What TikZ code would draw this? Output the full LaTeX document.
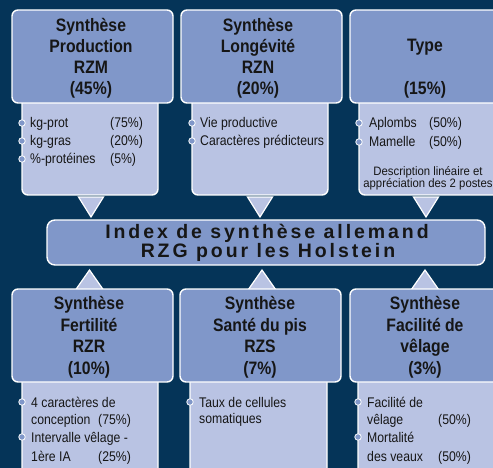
\documentclass[tikz,border=0pt]{standalone}
\usepackage{fontspec}
\setmainfont{Liberation Sans}[FakeStretch=0.875]
\newfontfamily\spacedfont{Liberation Sans}[LetterSpace=15]
\newfontfamily\descfont{Liberation Sans}[FakeStretch=0.93]
\definecolor{navy}{HTML}{053458}
\definecolor{headblue}{HTML}{8097C9}
\definecolor{lightblue}{HTML}{B9C3E3}
\definecolor{txt}{HTML}{161616}
\begin{document}
\begin{tikzpicture}[x=1pt,y=-1pt,
  box/.style={draw=white, line width=1.4pt, rounded corners=6pt},
  headbox/.style={box, fill=headblue},
  lightbox/.style={box, fill=lightblue},
  tri/.style={draw=white, line width=1.2pt, fill=lightblue},
  dot/.style={circle, draw=white, line width=0.8pt, fill=headblue, inner sep=0pt, minimum size=6.5pt},
  hd/.style={anchor=base, inner sep=0pt, font=\fontsize{18}{21}\selectfont\bfseries, text=txt},
  bt/.style={anchor=base west, inner sep=0pt, font=\fontsize{14}{18}\selectfont, text=txt},
  st/.style={anchor=base, inner sep=0pt, font=\descfont\fontsize{12.2}{11}\selectfont, text=txt},
  mid/.style={anchor=base, inner sep=0pt, font=\spacedfont\bfseries\fontsize{19.5}{19}\selectfont, text=txt},
]
\fill[navy] (0,0) rectangle (493,468);
\useasboundingbox (0,0) rectangle (493,468);
\clip (0,0) rectangle (493,468);

% ---------- top row ----------
\draw[tri] (78.5,197) -- (91,217) -- (103.5,197) -- cycle;
\draw[tri] (247.5,197) -- (260,217) -- (272.5,197) -- cycle;
\draw[tri] (413.5,197) -- (426,217) -- (438.5,197) -- cycle;

\draw[lightbox] (22,96) rectangle (158,195);
\draw[lightbox] (192,96) rectangle (328,195);
\draw[lightbox] (359,96) rectangle (510,195);

\draw[headbox] (12,10) rectangle (173,103);
\draw[headbox] (181,10) rectangle (342,103);
\draw[headbox] (350,10) rectangle (515,103);

\node[hd] (h1a) at (91,31.5) {Synthèse};
\node[hd] (h1b) at (91,52.5) {Production};
\node[hd] (h1c) at (91,73.5) {RZM};
\node[hd] (h1d) at (91,94.5) {(45\%)};

\node[hd] (h2a) at (258,31.5) {Synthèse};
\node[hd] (h2b) at (258,52.5) {Longévité};
\node[hd] (h2c) at (258,73.5) {RZN};
\node[hd] (h2d) at (258,94.5) {(20\%)};

\node[hd] (h3a) at (425,51.5) {Type};
\node[hd] (h3b) at (425,94.5) {(15\%)};

\node[dot] (d1) at (22,123) {};
\node[dot] (d2) at (22,141) {};
\node[dot] (d3) at (22,159) {};
\node[bt] (t1a) at (30,128) {kg-prot};
\node[bt] (t1b) at (30,146) {kg-gras};
\node[bt] (t1c) at (30,164) {\%-protéines};
\node[bt] (p1a) at (110,128) {(75\%)};
\node[bt] (p1b) at (110,146) {(20\%)};
\node[bt] (p1c) at (110,164) {(5\%)};

\node[dot] (d4) at (192,123) {};
\node[dot] (d5) at (192,141) {};
\node[bt] (t2a) at (200,128) {Vie productive};
\node[bt] (t2b) at (200,146) {Caractères prédicteurs};

\node[dot] (d6) at (359,123) {};
\node[dot] (d7) at (359,142) {};
\node[bt] (t3a) at (369,128) {Aplombs};
\node[bt] (t3b) at (369,147) {Mamelle};
\node[bt] (p3a) at (429,128) {(50\%)};
\node[bt] (p3b) at (429,147) {(50\%)};
\node[st] (s3a) at (428,176) {Description linéaire et};
\node[st] (s3b) at (428,188) {appréciation des 2 postes};

% ---------- middle ----------
\draw[headbox, rounded corners=8pt] (47,220) rectangle (485,265);
\node[mid] (m1) at (267,238.5) {Index de synthèse allemand};
\node[mid] (m2) at (268,257.7) {RZG pour les Holstein};

% ---------- bottom row ----------
\draw[tri] (75.5,290) -- (89.5,270) -- (103.5,290) -- cycle;
\draw[tri] (248,290) -- (262,270) -- (276,290) -- cycle;
\draw[tri] (411,290) -- (425,270) -- (439,290) -- cycle;

\draw[lightbox] (22,376) rectangle (158,485);
\draw[lightbox] (190,376) rectangle (327,485);
\draw[lightbox] (358,376) rectangle (510,485);

\draw[headbox] (12,289) rectangle (173,382);
\draw[headbox] (180,289) rectangle (341,382);
\draw[headbox] (350,289) rectangle (515,382);

\node[hd] (h4a) at (89,309.5) {Synthèse};
\node[hd] (h4b) at (89,331) {Fertilité};
\node[hd] (h4c) at (89,352.5) {RZR};
\node[hd] (h4d) at (89,374) {(10\%)};

\node[hd] (h5a) at (260,309.5) {Synthèse};
\node[hd] (h5b) at (260,331) {Santé du pis};
\node[hd] (h5c) at (260,352.5) {RZS};
\node[hd] (h5d) at (260,374) {(7\%)};

\node[hd] (h6a) at (425,309.5) {Synthèse};
\node[hd] (h6b) at (425,331) {Facilité de};
\node[hd] (h6c) at (425,352.5) {vêlage};
\node[hd] (h6d) at (425,374) {(3\%)};

\node[dot] (d8) at (22,402) {};
\node[dot] (d9) at (22,437) {};
\node[bt] (t4a) at (31,407) {4 caractères de};
\node[bt] (t4b) at (31,424.5) {conception};
\node[bt] (p4a) at (98,424.5) {(75\%)};
\node[bt] (t4c) at (31,442) {Intervalle vêlage -};
\node[bt] (t4d) at (31,461) {1ère IA};
\node[bt] (p4b) at (98,461) {(25\%)};

\node[dot] (d10) at (190,402) {};
\node[bt] (t5a) at (199,407) {Taux de cellules};
\node[bt] (t5b) at (199,423.5) {somatiques};

\node[dot] (d11) at (358,402) {};
\node[dot] (d12) at (358,437) {};
\node[bt] (t6a) at (367,407) {Facilité de};
\node[bt] (t6b) at (367,424) {vêlage};
\node[bt] (p6a) at (438,424) {(50\%)};
\node[bt] (t6c) at (367,442) {Mortalité};
\node[bt] (t6d) at (367,461) {des veaux};
\node[bt] (p6b) at (438,461) {(50\%)};
\end{tikzpicture}
\end{document}
